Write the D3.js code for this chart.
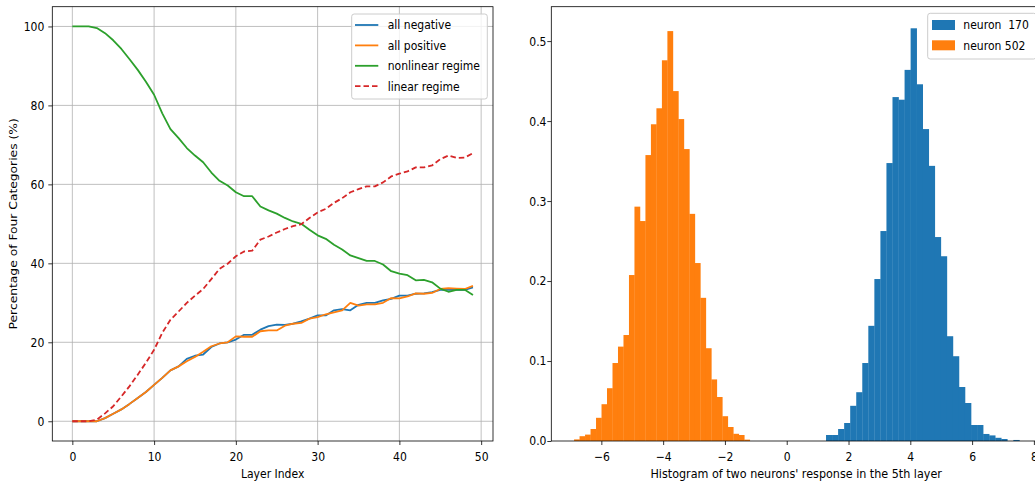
<!DOCTYPE html>
<html>
<head>
<meta charset="utf-8">
<script src="https://cdn.jsdelivr.net/npm/d3@7"></script>
<style>
  body { margin: 0; background: #fff; }
  svg { display: block; font-family: "DejaVu Sans", sans-serif; }
  text { white-space: pre; }
</style>
</head>
<body>
<svg id="chart" width="1035" height="482"></svg>
<script>
// Left panel: share of each category per layer (%)
const layers = d3.range(50);
const allNegative = [0, 0, 0, 0, 0.8, 1.9, 3, 4.4, 5.9, 7.4, 9.2, 11, 12.9, 13.9, 15.8, 16.6, 16.9, 18.8, 19.7, 20,
  20.7, 21.9, 21.9, 23.2, 24.1, 24.5, 24.4, 24.7, 25.3, 26, 26.8, 26.8, 28.1, 28.4, 28.1, 29.5, 30, 30, 30.6, 31,
  31.8, 31.8, 32.3, 32.4, 32.7, 33.3, 33.3, 33.3, 33.3, 33.9];
const allPositive = [0, 0, 0, 0, 0.8, 1.9, 3, 4.4, 5.9, 7.4, 9.2, 11, 12.9, 13.9, 15.2, 16.3, 17.6, 19, 19.7, 20,
  21.5, 21.4, 21.4, 22.8, 23, 23, 24.2, 24.7, 24.9, 26, 26.4, 27.1, 27.6, 28.1, 30, 29.3, 29.6, 29.6, 30, 31.2,
  31.1, 31.6, 32.4, 32.3, 32.5, 33.5, 33.7, 33.6, 33.5, 34.3];
const nonlinearRegime = [100, 100, 100, 99.6, 98.3, 96.5, 94.3, 91.7, 89, 86, 82.7, 78, 74, 71.7, 69.2, 67.3, 65.6,
  63, 60.9, 59.7, 58, 57, 57, 54.4, 53.4, 52.6, 51.5, 50.6, 50, 48.5, 47.1, 46.2, 44.7, 43.5, 42, 41.3, 40.6, 40.6,
  39.7, 38, 37.4, 37, 35.7, 35.8, 35.2, 33.6, 32.8, 33.3, 33.3, 32];
const linearRegime = [0, 0, 0, 0.4, 2, 3.8, 6.3, 8.9, 11.8, 14.8, 18.1, 22.4, 25.7, 27.8, 30, 31.8, 33.5, 36, 38.6,
  39.9, 41.8, 43, 43.2, 46, 46.8, 47.8, 48.7, 49.4, 49.9, 51.5, 52.9, 53.8, 55.3, 56.5, 58, 58.8, 59.5, 59.5, 60.5,
  62, 62.7, 63.3, 64.3, 64.3, 64.8, 66.4, 67.3, 66.7, 66.8, 67.9];
const lineNames = ["all negative", "all positive", "nonlinear regime", "linear regime"];
const leftXTicks = [0, 10, 20, 30, 40, 50];
const leftYTicks = [0, 20, 40, 60, 80, 100];

// Right panel: histogram densities, 32 equal bins per neuron
const neuron170Range = [1.272, 7.53];
const neuron170 = [0.0075, 0.0075, 0.015, 0.0225, 0.044, 0.061, 0.0975, 0.144, 0.2025, 0.2625, 0.3475, 0.43,
  0.4267, 0.464, 0.516, 0.446, 0.39, 0.344, 0.255, 0.231, 0.131, 0.106, 0.0675, 0.0475, 0.02, 0.02, 0.0088,
  0.007, 0.004, 0.0025, 0, 0.0013];
const neuron502Range = [-6.883, -1.197];
const neuron502 = [0.002, 0.006, 0.008, 0.015, 0.029, 0.046, 0.066, 0.0975, 0.118, 0.1325, 0.2075, 0.293, 0.275,
  0.3575, 0.396, 0.416, 0.476, 0.5125, 0.4375, 0.4025, 0.365, 0.284, 0.2225, 0.179, 0.116, 0.077, 0.055, 0.031,
  0.0175, 0.009, 0.0075, 0.0017];
const histNames = ["neuron  170", "neuron 502"];
const rightXTicks = [-6, -4, -2, 0, 2, 4, 6, 8];
const rightYTicks = [0, 0.1, 0.2, 0.3, 0.4, 0.5];

const blue = "#1f77b4", orange = "#ff7f0e", green = "#2ca02c", red = "#d62728";
const SX = 0.88;      // the picture is squeezed horizontally
const FS = 12.3;

const svg = d3.select("#chart");

function label(g, x, y, s, anchor, size, rot) {
  return g.append("text")
    .attr("transform", `translate(${x},${y}) scale(${SX},1)` + (rot ? ` rotate(${rot})` : ""))
    .attr("text-anchor", anchor || "start")
    .attr("font-size", size || FS)
    .attr("fill", "#000")
    .text(s);
}

function styleAxis(g, isX, offset) {
  g.select(".domain").remove();
  g.selectAll(".tick line").attr("stroke", "#000").attr("stroke-width", 0.8);
  g.selectAll(".tick text")
    .attr("font-size", FS)
    .attr("font-family", "DejaVu Sans")
    .attr("fill", "#000")
    .attr("transform", `scale(${SX},1)`);
  if (isX) g.selectAll(".tick text").attr("y", offset);
  else g.selectAll(".tick text").attr("x", -offset / SX);
}

// ---------- left panel ----------
const L = { left: 52.3, right: 493, top: 6.7, bottom: 441 };
const x1 = d3.scaleLinear().domain([-2.45, 51.45]).range([L.left, L.right]);
const y1 = d3.scaleLinear().domain([-5, 105]).range([L.bottom, L.top]);

const gl = svg.append("g");
// grid
gl.selectAll(".vgrid").data(leftXTicks).join("line")
  .attr("x1", d => x1(d)).attr("x2", d => x1(d))
  .attr("y1", L.top).attr("y2", L.bottom)
  .attr("stroke", "#b0b0b0").attr("stroke-width", 0.8);
gl.selectAll(".hgrid").data(leftYTicks).join("line")
  .attr("x1", L.left).attr("x2", L.right)
  .attr("y1", d => y1(d)).attr("y2", d => y1(d))
  .attr("stroke", "#b0b0b0").attr("stroke-width", 0.8);

const line1 = vals => d3.line().x((d, i) => x1(layers[i])).y(d => y1(d))(vals);
[[allNegative, blue, null], [allPositive, orange, null], [nonlinearRegime, green, null], [linearRegime, red, "5.5,3"]]
  .forEach(([vals, c, dash]) => {
    gl.append("path").attr("d", line1(vals)).attr("fill", "none")
      .attr("stroke", c).attr("stroke-width", 1.8)
      .attr("stroke-dasharray", dash).attr("stroke-linejoin", "round");
  });

gl.append("rect").attr("x", L.left).attr("y", L.top)
  .attr("width", L.right - L.left).attr("height", L.bottom - L.top)
  .attr("fill", "none").attr("stroke", "#000").attr("stroke-width", 0.8);

const ax1 = gl.append("g").attr("transform", `translate(0,${L.bottom})`)
  .call(d3.axisBottom(x1).tickValues(leftXTicks).tickSize(4).tickFormat(d3.format("d")));
styleAxis(ax1, true, 11);
const ay1 = gl.append("g").attr("transform", `translate(${L.left},0)`)
  .call(d3.axisLeft(y1).tickValues(leftYTicks).tickSize(4).tickFormat(d3.format("d")));
styleAxis(ay1, false, 8);

label(gl, (L.left + L.right) / 2, 478, "Layer Index", "middle");
label(gl, 17, (L.top + L.bottom) / 2, "Percentage of Four Categories (%)", "middle", FS, -90);

// legend
const lg = gl.append("g");
lg.append("rect").attr("x", 351.7).attr("y", 14).attr("width", 135.6).attr("height", 85)
  .attr("rx", 2.5).attr("fill", "#fff").attr("fill-opacity", 0.8)
  .attr("stroke", "#cccccc").attr("stroke-width", 1);
[blue, orange, green, red].forEach((c, i) => {
  const cy = 25 + i * 20.4;
  lg.append("line").attr("x1", 355).attr("x2", 378.3).attr("y1", cy).attr("y2", cy)
    .attr("stroke", c).attr("stroke-width", 1.8).attr("stroke-dasharray", i === 3 ? "5.5,3" : null);
  label(lg, 387.7, cy + 4.4, lineNames[i]);
});

// ---------- right panel ----------
const R = { left: 551.3, right: 1041, top: 6.7, bottom: 441 };
const x2 = d3.scaleLinear().domain([-7.62, 8.23]).range([R.left, R.right]);
const y2 = d3.scaleLinear().domain([0, 0.543]).range([R.bottom, R.top]);

const gr = svg.append("g");
function drawHist(vals, range, color) {
  const w = (range[1] - range[0]) / vals.length;
  gr.append("g").selectAll("rect").data(vals).join("rect")
    .attr("x", (d, i) => x2(range[0] + i * w))
    .attr("width", (d, i) => x2(range[0] + (i + 1) * w) - x2(range[0] + i * w) + 0.3)
    .attr("y", d => y2(d))
    .attr("height", d => y2(0) - y2(d))
    .attr("fill", color);
}
drawHist(neuron170, neuron170Range, blue);
drawHist(neuron502, neuron502Range, orange);

gr.append("rect").attr("x", R.left).attr("y", R.top)
  .attr("width", R.right - R.left).attr("height", R.bottom - R.top)
  .attr("fill", "none").attr("stroke", "#000").attr("stroke-width", 0.8);

const ax2 = gr.append("g").attr("transform", `translate(0,${R.bottom})`)
  .call(d3.axisBottom(x2).tickValues(rightXTicks).tickSize(4).tickFormat(d3.format("d")));
styleAxis(ax2, true, 11);
const ay2 = gr.append("g").attr("transform", `translate(${R.left},0)`)
  .call(d3.axisLeft(y2).tickValues(rightYTicks).tickSize(4).tickFormat(d3.format(".1f")));
styleAxis(ay2, false, 4.8);

label(gr, (R.left + R.right) / 2, 478, "Histogram of two neurons' response in the 5th layer", "middle", 12.7);

const rg = gr.append("g");
rg.append("rect").attr("x", 927.7).attr("y", 13.3).attr("width", 108.5).attr("height", 45.7)
  .attr("rx", 2.5).attr("fill", "#fff").attr("fill-opacity", 0.8)
  .attr("stroke", "#cccccc").attr("stroke-width", 1);
[blue, orange].forEach((c, i) => {
  const cy = 25 + i * 20.3;
  rg.append("rect").attr("x", 932).attr("y", cy - 5).attr("width", 23).attr("height", 10).attr("fill", c);
  label(rg, 963.3, cy + 4.4, histNames[i]);
});
</script>
</body>
</html>
